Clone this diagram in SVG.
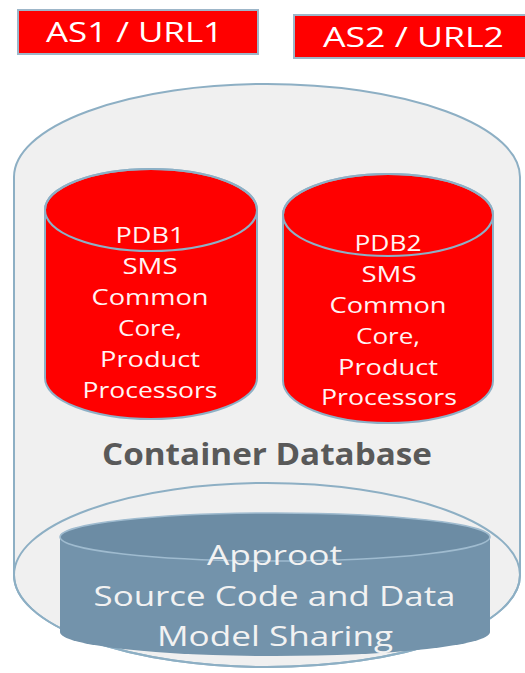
<svg xmlns="http://www.w3.org/2000/svg" width="525" height="673" viewBox="0 0 525 673">
<style>
  .lbl { font-family: "Open Sans", "Liberation Sans", sans-serif; text-anchor: middle; }
  .w { fill: #FFFFFF; }
  .as { font-size: 27px; }
  .pdb { font-size: 22px; fill: #FFF4F4; }
  .app { font-size: 28px; fill: #F2F2F2; }
  .cdb { font-size: 30px; font-weight: 700; fill: #595959; }
  .red { fill: #FF0000; stroke: #8DB0C6; stroke-width: 2; }
  .outl { fill: none; stroke: #8DB0C6; stroke-width: 2; }
</style>
<rect width="525" height="673" fill="#FFFFFF"/>

<g id="container-db">
  <path d="M14,177 A253,93 0 0 1 520,177 L520,575 A253,92 0 0 1 14,575 Z" fill="#F0F0F0" stroke="#8DAFC4" stroke-width="2"/>
  <ellipse cx="267" cy="575" rx="253" ry="92" fill="none" stroke="#8DAFC4" stroke-width="2"/>
  <text class="lbl cdb" x="267" y="465" textLength="330" lengthAdjust="spacingAndGlyphs">Container Database</text>
</g>

<g id="as1">
  <rect x="18" y="10" width="240" height="44" fill="#FF0000" stroke="#9DB6C9" stroke-width="2"/>
  <text class="lbl w as" x="134.5" y="42" textLength="177" lengthAdjust="spacingAndGlyphs">AS1 / URL1</text>
</g>

<g id="as2">
  <rect x="294" y="15" width="240" height="43" fill="#FF0000" stroke="#9DB6C9" stroke-width="2"/>
  <text class="lbl w as" x="413.5" y="47" textLength="181" lengthAdjust="spacingAndGlyphs">AS2 / URL2</text>
</g>

<g id="pdb1">
  <path class="red" d="M45,210 A106,41 0 0 1 257,210 L257,378 A106,41 0 0 1 45,378 Z"/>
  <ellipse class="outl" cx="151" cy="210" rx="106" ry="41"/>
  <text class="lbl pdb" x="150" y="243" textLength="69" lengthAdjust="spacingAndGlyphs">PDB1</text>
  <text class="lbl pdb" x="150" y="274" textLength="55" lengthAdjust="spacingAndGlyphs">SMS</text>
  <text class="lbl pdb" x="150" y="305" textLength="117" lengthAdjust="spacingAndGlyphs">Common</text>
  <text class="lbl pdb" x="150" y="336" textLength="64" lengthAdjust="spacingAndGlyphs">Core,</text>
  <text class="lbl pdb" x="150" y="367" textLength="100" lengthAdjust="spacingAndGlyphs">Product</text>
  <text class="lbl pdb" x="150" y="398" textLength="135" lengthAdjust="spacingAndGlyphs">Processors</text>
</g>

<g id="pdb2">
  <path class="red" d="M283,215 A105,41 0 0 1 493,215 L493,381 A105,42 0 0 1 283,381 Z"/>
  <ellipse class="outl" cx="388" cy="215" rx="105" ry="41"/>
  <text class="lbl pdb" x="388" y="251" textLength="67" lengthAdjust="spacingAndGlyphs">PDB2</text>
  <text class="lbl pdb" x="389" y="282" textLength="55" lengthAdjust="spacingAndGlyphs">SMS</text>
  <text class="lbl pdb" x="388" y="313" textLength="117" lengthAdjust="spacingAndGlyphs">Common</text>
  <text class="lbl pdb" x="388" y="344" textLength="64" lengthAdjust="spacingAndGlyphs">Core,</text>
  <text class="lbl pdb" x="388" y="375" textLength="100" lengthAdjust="spacingAndGlyphs">Product</text>
  <text class="lbl pdb" x="389" y="405" textLength="136" lengthAdjust="spacingAndGlyphs">Processors</text>
</g>

<g id="approot">
  <path d="M60,537 A215,24 0 0 1 490,537 L490,632 A215,24 0 0 1 60,632 Z" fill="#7393AB"/>
  <ellipse cx="275" cy="537" rx="215" ry="24" fill="#6C8CA4" stroke="#9FBBCF" stroke-width="1.5"/>
  <text class="lbl app" x="274.5" y="565" textLength="135" lengthAdjust="spacingAndGlyphs">Approot</text>
  <text class="lbl app" x="274.5" y="606" textLength="362" lengthAdjust="spacingAndGlyphs">Source Code and Data</text>
  <text class="lbl app" x="275" y="646" textLength="236" lengthAdjust="spacingAndGlyphs">Model Sharing</text>
</g>

<g id="connectors"/>
</svg>
